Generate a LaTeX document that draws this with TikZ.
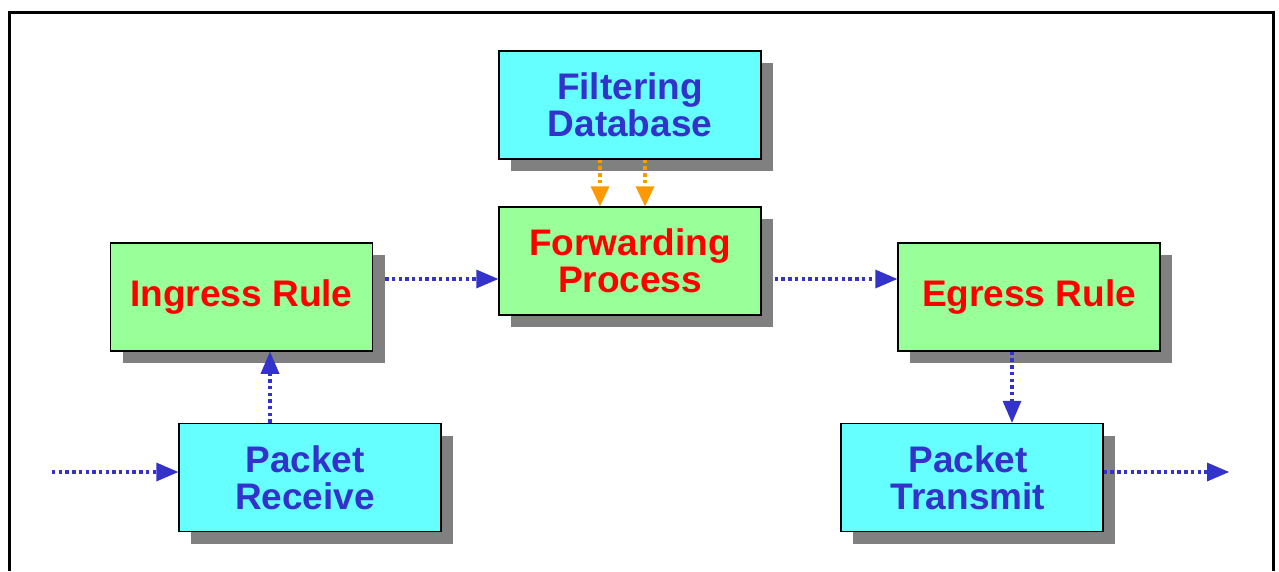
\documentclass[tikz,border=0pt]{standalone}
\usepackage{fontspec}
\setmainfont{Liberation Sans}
\usetikzlibrary{arrows.meta,shadows}
\definecolor{boxcyan}{HTML}{66FFFF}
\definecolor{boxgreen}{HTML}{99FF99}
\definecolor{txtblue}{HTML}{3333CC}
\definecolor{txtred}{HTML}{FF0000}
\definecolor{arrorange}{HTML}{FF9900}
\definecolor{shadowgray}{HTML}{808080}
\tikzset{
  procbox/.style={draw=black, line width=1.5pt, rectangle, minimum width=262pt, minimum height=108pt,
    inner sep=0pt, align=center,
    font=\fontsize{37}{37}\selectfont\bfseries,
    drop shadow={shadow xshift=12pt, shadow yshift=-12pt, fill=shadowgray, opacity=1}},
  cyanbox/.style={procbox, fill=boxcyan, text=txtblue},
  greenbox/.style={procbox, fill=boxgreen, text=txtred},
  flow/.style={draw=txtblue, line width=3.5pt, line cap=butt, dash pattern=on 3.4pt off 3.3pt,
    -{Triangle[length=22pt, width=19pt, fill=txtblue, line width=0pt]}},
  dbflow/.style={draw=arrorange, line width=3.5pt, line cap=butt, dash pattern=on 3.4pt off 3.3pt,
    -{Triangle[length=20pt, width=19pt, fill=arrorange, line width=0pt]}},
}
\begin{document}
\begin{tikzpicture}[x=1pt, y=-1pt]
\useasboundingbox (0,0) rectangle (1279,571);
\draw[line width=3pt] (9,571) -- (9,12) -- (1273,12) -- (1273,571);

\node[cyanbox] (FD) at (630,105) {Filtering\\Database};
\node[greenbox] (FP) at (630,261) {Forwarding\\Process};
\node[greenbox] (IR) at (241.5,297) {Ingress Rule};
\node[cyanbox, text depth=0pt] (PR) at (310,477.5) {\hspace*{-10pt}Packet\\\hspace*{-10pt}Receive};
\node[greenbox] (ER) at (1029,297) {Egress Rule};
\node[cyanbox] (PT) at (972,477.5) {\hspace*{-8pt}Packet\\\hspace*{-8pt}Transmit};

\coordinate (inS) at (52,472);
\coordinate (outE) at (1229,472);
\coordinate (upX) at (270,0);
\coordinate (midY) at (0,279);
\coordinate (downX) at (1012,0);
\coordinate (dbA) at (600,0);
\coordinate (dbB) at (645,0);

\draw[flow] (inS) -- (inS -| PR.west);
\draw[flow] (PR.north -| upX) -- (IR.south -| upX);
\draw[flow, shorten <=12pt] (IR.east |- midY) -- (FP.west |- midY);
\draw[flow, shorten <=13pt] (FP.east |- midY) -- (ER.west |- midY);
\draw[flow] (ER.south -| downX) -- (PT.north -| downX);
\draw[flow] (PT.east |- outE) -- (outE);
\draw[dbflow] (FD.south -| dbA) -- (FP.north -| dbA);
\draw[dbflow] (FD.south -| dbB) -- (FP.north -| dbB);
\end{tikzpicture}
\end{document}
